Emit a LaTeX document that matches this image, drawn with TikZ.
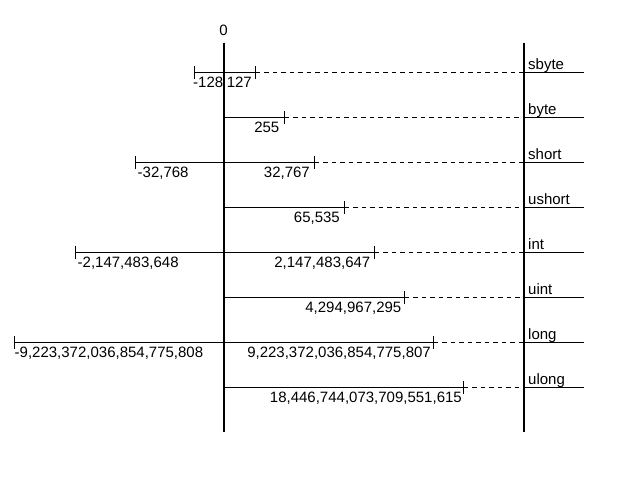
\documentclass[tikz,border=0pt]{standalone}
\usepackage{fontspec}
\setmainfont{Liberation Sans}
\begin{document}
\begin{tikzpicture}[x=1pt,y=-1pt,
  txt/.style={font=\fontsize{15}{18}\selectfont, inner sep=0pt},
  rangeline/.style={line width=1.3pt},
  axisline/.style={line width=1.5pt},
  tickmark/.style={line width=1.3pt},
  guide/.style={line width=1pt, dash pattern=on 4.5pt off 4pt}]
\useasboundingbox (0,0) rectangle (635,483);
% axes
\coordinate (zt) at (224,42.5);
\coordinate (zb) at (224,432);
\coordinate (rt) at (524,42.5);
\coordinate (rb) at (524,432);
\draw[axisline] (zt) -- (zb);
\draw[axisline] (rt) -- (rb);
\node[txt] (zero) at (223.5,30.5) {0};
% rows: name / y / left x / right x / left label x / left label / right label east x / right label
\foreach \nm/\yy/\lx/\rx/\llx/\ll/\rlx/\rl in {
  sbyte/72.5/194.5/255.5/193/{-128}/252/{127},
  byte/117.5/224/284.5/0/{}/279.5/{255},
  short/162.5/135.5/314.5/137.5/{-32,768}/310/{32,767},
  ushort/207.5/224/344.5/0/{}/340/{65,535},
  int/252.5/75.5/374.5/77.5/{-2,147,483,648}/370.5/{2,147,483,647},
  uint/297.5/224/404.5/0/{}/401.5/{4,294,967,295},
  long/342.5/14.5/433.5/14.5/{-9,223,372,036,854,775,808}/431/{9,223,372,036,854,775,807},
  ulong/387.5/224/463.5/0/{}/462/{18,446,744,073,709,551,615}}
{
  \coordinate (L-\nm) at (\lx,\yy);
  \coordinate (R-\nm) at (\rx,\yy);
  \coordinate (E-\nm) at (524,\yy);
  \coordinate (F-\nm) at (584,\yy);
  \draw[rangeline] (L-\nm) -- (R-\nm);
  \draw[tickmark] ([yshift=-6.5pt]R-\nm) -- ([yshift=6.5pt]R-\nm);
  \ifdim\lx pt<224pt
    \draw[tickmark] ([yshift=-6.5pt]L-\nm) -- ([yshift=6.5pt]L-\nm);
    \node[txt, anchor=north west] (ll-\nm) at (\llx,\yy+4.5) {\ll};
  \fi
  \node[txt, anchor=north east] (rl-\nm) at (\rlx,\yy+4.5) {\rl};
  \draw[guide] (R-\nm) -- (E-\nm);
  \draw[rangeline] (E-\nm) -- (F-\nm);
  \node[txt, anchor=base west] (tn-\nm) at (528,\yy-3.5) {\nm};
}
\end{tikzpicture}
\end{document}
